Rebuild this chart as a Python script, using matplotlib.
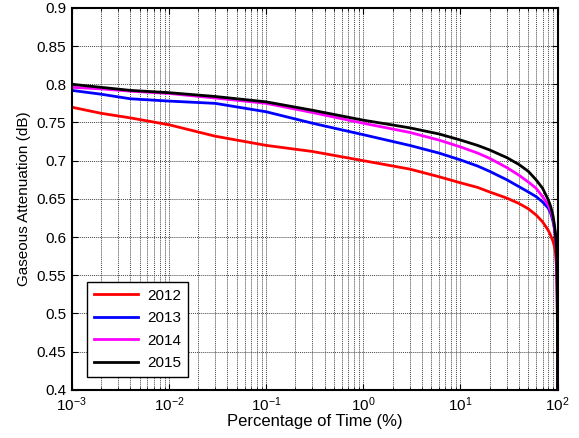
import matplotlib
matplotlib.use("Agg")
import matplotlib.pyplot as plt
from matplotlib.ticker import LogLocator, NullFormatter

plt.rcParams['font.family'] = ['Liberation Sans', 'DejaVu Sans']

# percentage of time (%)
pct = [0.001, 0.002, 0.004, 0.01, 0.03, 0.1, 0.3, 1, 3, 6, 10, 15, 20, 30, 40, 50, 60, 70, 80, 85, 90, 93, 95, 97, 98, 99, 99.5, 100]

# gaseous attenuation (dB) per year
att_2012 = [0.770, 0.762, 0.756, 0.747, 0.732, 0.720, 0.712, 0.700, 0.689, 0.679, 0.671, 0.665, 0.659, 0.651, 0.644, 0.637, 0.629, 0.620, 0.609, 0.602, 0.594, 0.587, 0.580, 0.565, 0.550, 0.525, 0.490, 0.400]
att_2013 = [0.792, 0.787, 0.781, 0.778, 0.775, 0.764, 0.749, 0.734, 0.720, 0.710, 0.701, 0.693, 0.686, 0.675, 0.666, 0.659, 0.653, 0.646, 0.638, 0.631, 0.620, 0.610, 0.600, 0.585, 0.570, 0.540, 0.500, 0.400]
att_2014 = [0.796, 0.794, 0.791, 0.788, 0.782, 0.775, 0.763, 0.749, 0.737, 0.727, 0.718, 0.710, 0.703, 0.691, 0.681, 0.672, 0.664, 0.653, 0.642, 0.634, 0.623, 0.612, 0.600, 0.585, 0.570, 0.545, 0.505, 0.400]
att_2015 = [0.800, 0.796, 0.792, 0.789, 0.784, 0.777, 0.766, 0.753, 0.743, 0.735, 0.727, 0.720, 0.714, 0.704, 0.695, 0.686, 0.675, 0.664, 0.649, 0.640, 0.627, 0.615, 0.605, 0.590, 0.575, 0.550, 0.515, 0.400]

years = ['2012', '2013', '2014', '2015']
series = [att_2012, att_2013, att_2014, att_2015]
colors = ['#ff0000', '#0000ff', '#ff00ff', '#000000']

fig = plt.figure(figsize=(5.79, 4.38), dpi=100)
ax = fig.add_axes([0.124, 0.110, 0.839, 0.872])

for yr, vals, c in zip(years, series, colors):
    ax.semilogx(pct, vals, color=c, linewidth=2, label=yr)

ax.set_xlim(1e-3, 1e2)
ax.set_ylim(0.4, 0.9)
ax.set_yticks([0.4, 0.45, 0.5, 0.55, 0.6, 0.65, 0.7, 0.75, 0.8, 0.85, 0.9])
ax.set_yticklabels(['0.4', '0.45', '0.5', '0.55', '0.6', '0.65', '0.7', '0.75', '0.8', '0.85', '0.9'])
ax.xaxis.set_major_locator(LogLocator(base=10, numticks=10))
ax.xaxis.set_minor_locator(LogLocator(base=10, subs=range(2, 10), numticks=100))
ax.xaxis.set_minor_formatter(NullFormatter())

ax.grid(True, which='both', axis='x', linestyle=(0, (1, 1)), color='#444444', linewidth=0.7)
ax.grid(True, which='major', axis='y', linestyle=(0, (1, 1)), color='#444444', linewidth=0.7)

ax.tick_params(which='both', direction='in', top=True, right=True, labelsize=11, pad=4)
ax.tick_params(which='major', length=4)
ax.tick_params(which='minor', length=2)
for s in ax.spines.values():
    s.set_linewidth(1.5)

ax.set_xlabel('Percentage of Time (%)', fontsize=12, labelpad=0)
ax.set_ylabel('Gaseous Attenuation (dB)', fontsize=11, labelpad=4)

leg = ax.legend(loc='lower left', bbox_to_anchor=(0.031, 0.034), borderaxespad=0,
                fontsize=11, fancybox=False, framealpha=1, edgecolor='black',
                borderpad=0.45, handlelength=2.9, handletextpad=0.6, labelspacing=0.55)
leg.get_frame().set_linewidth(1.0)

fig.savefig('out.png', dpi=100)
